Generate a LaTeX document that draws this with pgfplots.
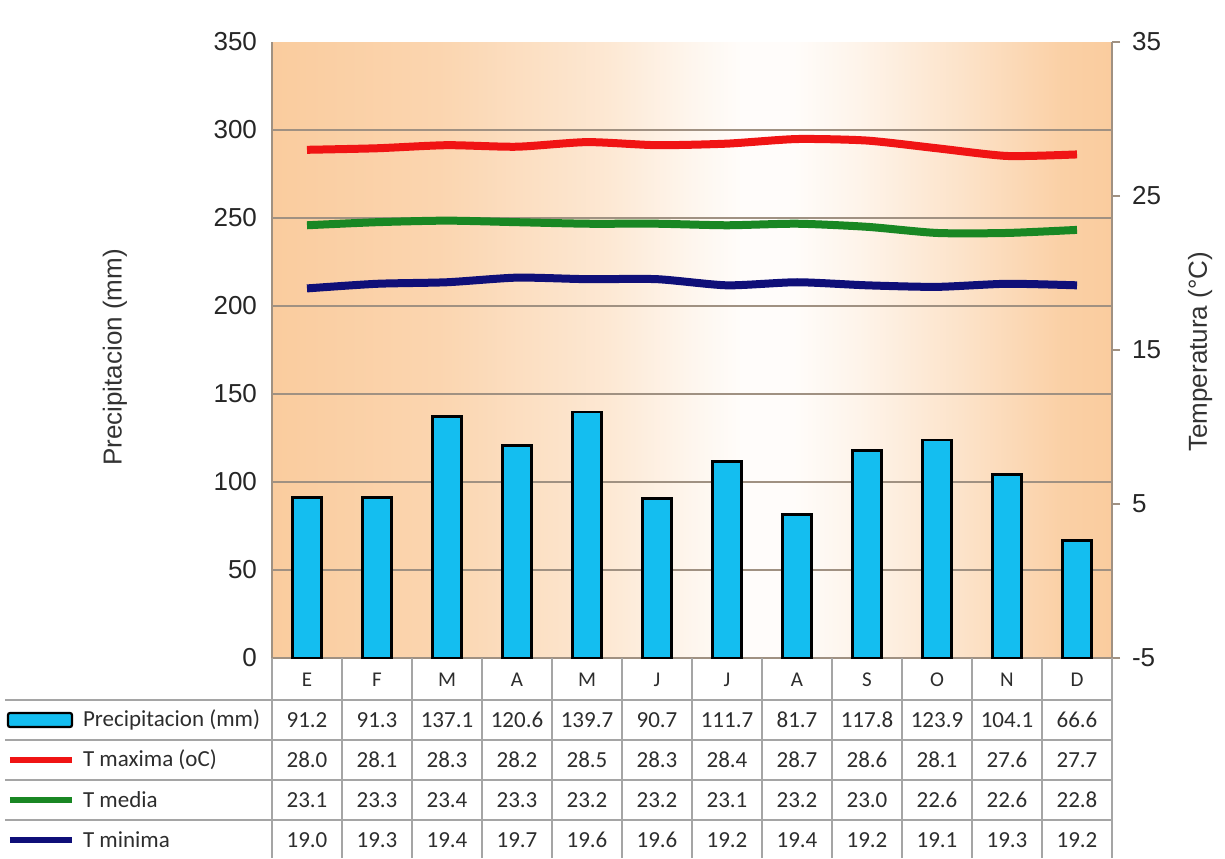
\documentclass[border=0pt]{standalone}
\usepackage{pgfplots}
\pgfplotsset{compat=1.18}
\usepackage{pgfplotstable}
\usepackage{fontspec}
\setmainfont{Liberation Sans}
\newfontfamily\calibri{Carlito}
\definecolor{peach}{RGB}{250,204,158}
\definecolor{barcyan}{RGB}{20,190,240}
\definecolor{tmaxred}{RGB}{240,20,20}
\definecolor{tmedgreen}{RGB}{25,135,35}
\definecolor{tminblue}{RGB}{15,15,120}
\definecolor{gridc}{RGB}{160,145,130}
\definecolor{tablec}{RGB}{165,165,165}
\definecolor{txt}{RGB}{45,45,45}
\pgfdeclarehorizontalshading{bgshade}{100bp}{color(0bp)=(peach); color(25bp)=(peach); color(35bp)=(peach!82!white); color(45bp)=(peach!45!white); color(50bp)=(peach!18!white); color(53bp)=(peach!5!white); color(56bp)=(peach!5!white); color(60bp)=(peach!22!white); color(66bp)=(peach!55!white); color(72bp)=(peach!92!white); color(75bp)=(peach); color(100bp)=(peach)}

\pgfplotstableread{
x prec tmax tmed tmin
0 91.2 28.0 23.1 19.0
1 91.3 28.1 23.3 19.3
2 137.1 28.3 23.4 19.4
3 120.6 28.2 23.3 19.7
4 139.7 28.5 23.2 19.6
5 90.7 28.3 23.2 19.6
6 111.7 28.4 23.1 19.2
7 81.7 28.7 23.2 19.4
8 117.8 28.6 23.0 19.2
9 123.9 28.1 22.6 19.1
10 104.1 27.6 22.6 19.3
11 66.6 27.7 22.8 19.2
}\datatab

\begin{document}
\begin{tikzpicture}
\path[use as bounding box] (-136pt,-100pt) rectangle (476.5pt,329pt);
\begin{axis}[
  at={(0pt,0pt)}, anchor=south west,
  width=420pt, height=308pt, scale only axis,
  xmin=-0.5, xmax=11.5, ymin=0, ymax=350,
  axis x line*=bottom, axis y line*=left,
  axis line style={gridc, line width=0.6pt},
  xtick=\empty,
  ytick={0,50,...,350},
  major tick length=0pt,
  extra y ticks={50,100,...,300}, extra y tick labels={},
  extra y tick style={grid=major, major tick length=0pt, major grid style={gridc, line width=0.6pt}},
  tick label style={font=\fontsize{13}{15}\selectfont, text=black!85},
  yticklabel style={xshift=-4pt},
  /pgf/number format/assume math mode=true,
  ylabel={Precipitacion (mm)},
  ylabel style={at={(axis description cs:-0.187,0.488)}, anchor=center, font=\fontsize{13}{15}\selectfont, text=black!80},
  axis background/.style={shading=bgshade},
  ybar, bar width=14.5pt,
]
\addplot[fill=barcyan, draw=black, line width=1.3pt] table[x=x,y=prec]{\datatab};
\end{axis}
\begin{axis}[
  at={(0pt,0pt)}, anchor=south west,
  width=420pt, height=308pt, scale only axis,
  xmin=-0.5, xmax=11.5, ymin=-5, ymax=35,
  axis x line=none, axis y line*=right,
  axis line style={gridc, line width=0.6pt},
  ytick={-5,5,15,25,35},
  tick align=outside, major tick length=4pt,
  tick style={gridc, line width=0.6pt},
  tick label style={font=\fontsize{13}{15}\selectfont, text=black!85},
  yticklabel style={xshift=2.5pt},
  /pgf/number format/assume math mode=true,
  ylabel={Temperatura (°C)},
  ylabel style={at={(axis description cs:1.105,0.497)}, anchor=center, font=\fontsize{13}{15}\selectfont, text=black!80},
]
\addplot[tmaxred, line width=4pt, smooth, tension=0.4] table[x=x,y=tmax]{\datatab};
\addplot[tmedgreen, line width=4pt, smooth, tension=0.4] table[x=x,y=tmed]{\datatab};
\addplot[tminblue, line width=4pt, smooth, tension=0.4] table[x=x,y=tmin]{\datatab};
\end{axis}
% data table
\begin{scope}[tablec, line width=0.7pt]
\foreach \y in {-21,-41,-61,-81} \draw (-133.5pt,\y pt) -- (420.5pt,\y pt);
\foreach \k in {0,...,12} \draw ({35pt*\k},0pt) -- ({35pt*\k},-100pt);
\end{scope}
\foreach \m [count=\i from 0] in {E,F,M,A,M,J,J,A,S,O,N,D}
  \node[font=\calibri\fontsize{10.5}{12}\selectfont, text=txt] at ({17.5pt+35pt*\i},-11pt) {\m};
\foreach \v [count=\i from 0] in {91.2,91.3,137.1,120.6,139.7,90.7,111.7,81.7,117.8,123.9,104.1,66.6}
  \node[font=\calibri\fontsize{11.5}{13}\selectfont, text=txt] at ({17.5pt+35pt*\i},-31pt) {\v};
\foreach \v [count=\i from 0] in {28.0,28.1,28.3,28.2,28.5,28.3,28.4,28.7,28.6,28.1,27.6,27.7}
  \node[font=\calibri\fontsize{11.5}{13}\selectfont, text=txt] at ({17.5pt+35pt*\i},-51pt) {\v};
\foreach \v [count=\i from 0] in {23.1,23.3,23.4,23.3,23.2,23.2,23.1,23.2,23.0,22.6,22.6,22.8}
  \node[font=\calibri\fontsize{11.5}{13}\selectfont, text=txt] at ({17.5pt+35pt*\i},-71pt) {\v};
\foreach \v [count=\i from 0] in {19.0,19.3,19.4,19.7,19.6,19.6,19.2,19.4,19.2,19.1,19.3,19.2}
  \node[font=\calibri\fontsize{11.5}{13}\selectfont, text=txt] at ({17.5pt+35pt*\i},-91pt) {\v};
% legend keys
\draw[fill=barcyan, draw=black, line width=1.1pt, rounded corners=1pt] (-132pt,-27.5pt) rectangle (-100pt,-34.5pt);
\draw[tmaxred, line width=3pt] (-131pt,-51pt) -- (-100pt,-51pt);
\draw[tmedgreen, line width=3pt] (-131pt,-71pt) -- (-100pt,-71pt);
\draw[tminblue, line width=3pt] (-131pt,-91pt) -- (-100pt,-91pt);
\node[anchor=west, font=\calibri\fontsize{11.5}{13}\selectfont, text=txt] at (-98pt,-31pt) {Precipitacion (mm)};
\node[anchor=west, font=\calibri\fontsize{11.5}{13}\selectfont, text=txt] at (-98pt,-51pt) {T maxima (oC)};
\node[anchor=west, font=\calibri\fontsize{11.5}{13}\selectfont, text=txt] at (-98pt,-71pt) {T media};
\node[anchor=west, font=\calibri\fontsize{11.5}{13}\selectfont, text=txt] at (-98pt,-91pt) {T minima};
\end{tikzpicture}
\end{document}
